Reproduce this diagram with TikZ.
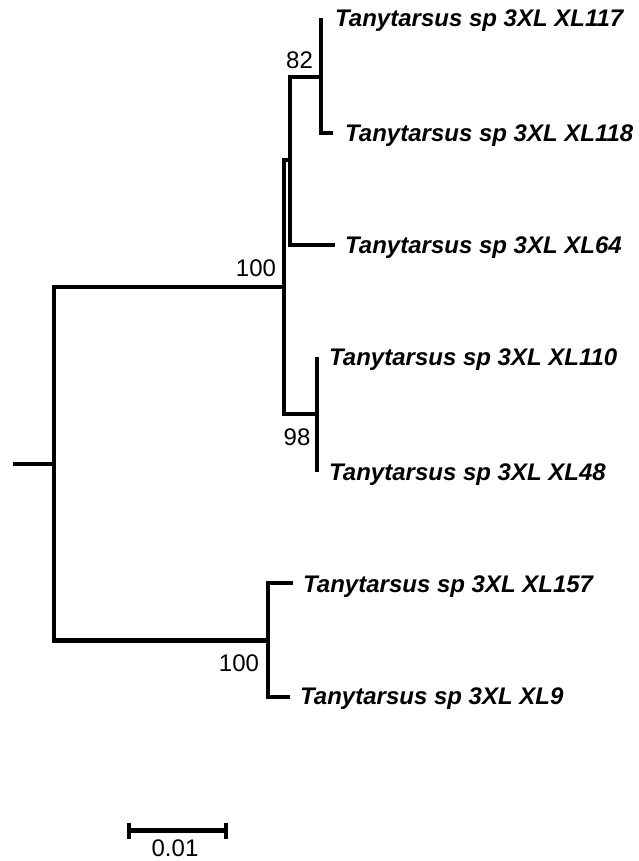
\documentclass[tikz,border=0pt]{standalone}
\usepackage{fontspec}
\setmainfont{Liberation Sans}
\begin{document}
\begin{tikzpicture}[x=1pt,y=-1pt,
  branch/.style={line width=4.5pt, line join=miter},
  taxon/.style={anchor=base west, inner sep=0pt, font=\fontsize{24}{28}\selectfont\bfseries\itshape},
  support/.style={inner sep=0pt, font=\fontsize{24}{28}\selectfont}]
\useasboundingbox (0,0) rectangle (639,861);
% internal nodes
\coordinate (stub) at (13,464);
\coordinate (root) at (54,464);
\coordinate (rt) at (54,287);
\coordinate (rb) at (54,640.5);
\coordinate (nA) at (284,287);
\coordinate (nAt) at (284,160);
\coordinate (nAb) at (284,414);
\coordinate (nB) at (290,160);
\coordinate (nBt) at (290,77);
\coordinate (nBb) at (290,245);
\coordinate (nC) at (321,77);
\coordinate (nCt) at (321,18);
\coordinate (nCb) at (321,133);
\coordinate (nD) at (317,414);
\coordinate (nDt) at (317,357);
\coordinate (nDb) at (317,472);
\coordinate (nE) at (268,640.5);
\coordinate (nEt) at (268,583);
\coordinate (nEb) at (268,697);
% tips
\coordinate (t118) at (333,133);
\coordinate (t64) at (335,245);
\coordinate (t157) at (293,583);
\coordinate (t9) at (290,697);
% branches
\draw[branch] (stub) -- (root);
\draw[branch] (nA) -- (rt) -- (rb) -- (nE);
\draw[branch] (nB) -- (nAt) -- (nAb) -- (nD);
\draw[branch] (nC) -- (nBt) -- (nBb) -- (t64);
\draw[branch] (nCt) -- (nCb) -- (t118);
\draw[branch] (nDt) -- (nDb);
\draw[branch] (t157) -- (nEt) -- (nEb) -- (t9);
% taxa
\node[taxon] (L117) at (335,27) {Tanytarsus sp 3XL XL117};
\node[taxon] (L118) at (345,141.5) {Tanytarsus sp 3XL XL118};
\node[taxon] (L64) at (345,253.5) {Tanytarsus sp 3XL XL64};
\node[taxon] (L110) at (329,365.5) {Tanytarsus sp 3XL XL110};
\node[taxon] (L48) at (329,480.5) {Tanytarsus sp 3XL XL48};
\node[taxon] (L157) at (303,592) {Tanytarsus sp 3XL XL157};
\node[taxon] (L9) at (300,704.5) {Tanytarsus sp 3XL XL9};
% support values
\node[support] (s82) at (299.5,60) {82};
\node[support] (s100a) at (256,268) {100};
\node[support] (s98) at (297,437.5) {98};
\node[support] (s100b) at (239,663.5) {100};
% scale bar
\coordinate (sb1) at (129,830.5);
\coordinate (sb2) at (226,830.5);
\draw[branch] (sb1) -- (sb2);
\draw[branch] ([yshift=-8pt]sb1) -- ([yshift=8pt]sb1);
\draw[branch] ([yshift=-8pt]sb2) -- ([yshift=8pt]sb2);
\node[support] (sbl) at (175,848) {0.01};
\end{tikzpicture}
\end{document}
